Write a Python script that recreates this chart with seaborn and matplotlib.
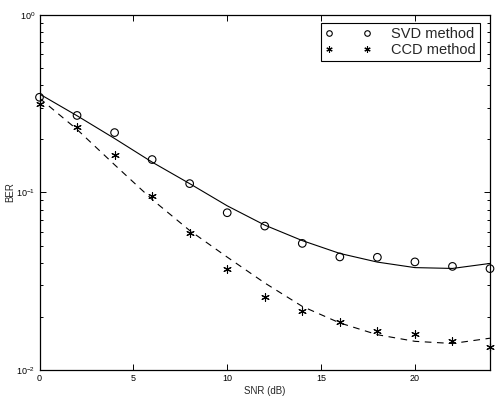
import matplotlib
matplotlib.use("Agg")
import matplotlib.pyplot as plt
from matplotlib.lines import Line2D
from matplotlib.ticker import LogLocator, LogFormatterMathtext, NullFormatter, FixedLocator
import numpy as np
import pandas as pd
import seaborn as sns

snr = [0, 2, 4, 6, 8, 10, 12, 14, 16, 18, 20, 22, 24]
svd_ber = [0.343, 0.271, 0.217, 0.153, 0.112, 0.0768, 0.0646, 0.0516, 0.0433, 0.0431, 0.0406, 0.0383, 0.0372]
ccd_ber = [0.314, 0.234, 0.163, 0.0953, 0.0592, 0.0368, 0.0256, 0.0216, 0.0187, 0.0165, 0.0160, 0.0145, 0.0135]
svd_fit = [0.358, 0.270, 0.201, 0.148, 0.112, 0.084, 0.0654, 0.0535, 0.0453, 0.0405, 0.0377, 0.0373, 0.0398]
ccd_fit = [0.339, 0.226, 0.143, 0.0912, 0.0610, 0.0432, 0.0309, 0.0228, 0.0184, 0.0158, 0.0145, 0.0141, 0.0151]
labels = ["SVD method", "CCD method"]

sns.set_style("ticks")
plt.rcParams["font.family"] = ["Liberation Sans", "DejaVu Sans"]
plt.rcParams["mathtext.fontset"] = "custom"
plt.rcParams["mathtext.rm"] = "Liberation Sans"
plt.rcParams["mathtext.it"] = "Liberation Sans"
plt.rcParams["mathtext.bf"] = "Liberation Sans"

df = pd.DataFrame({"snr": snr, "svd": svd_ber, "ccd": ccd_ber,
                   "svd_fit": svd_fit, "ccd_fit": ccd_fit})

fig = plt.figure(figsize=(5.0, 3.99), dpi=100)
ax = fig.add_axes([0.079, 0.0727, 0.901, 0.8904])

sns.lineplot(data=df, x="snr", y="svd_fit", color="black", lw=0.8, ax=ax)
sns.lineplot(data=df, x="snr", y="ccd_fit", color="black", lw=0.8,
             linestyle=(0, (6, 5)), ax=ax)
sns.scatterplot(data=df, x="snr", y="svd", marker="o", s=30,
                facecolor="none", edgecolor="black", linewidth=0.8, ax=ax, clip_on=False)
sns.scatterplot(data=df, x="snr", y="ccd", marker=(6, 2, 0), s=30,
                color="black", edgecolor="black", linewidth=0.8, ax=ax, clip_on=False)

ax.set_yscale("log")
ax.set_xlim(0, 24)
ax.set_ylim(1e-2, 1e0)
ax.xaxis.set_major_locator(FixedLocator([0, 5, 10, 15, 20]))
ax.yaxis.set_major_locator(LogLocator(base=10, numticks=10))
ax.yaxis.set_major_formatter(LogFormatterMathtext())
ax.yaxis.set_minor_locator(LogLocator(base=10, subs=np.arange(2, 10), numticks=10))
ax.yaxis.set_minor_formatter(NullFormatter())

ax.tick_params(which="both", direction="in", top=True, right=True,
               labelsize=6.5, colors="black", width=0.7)
ax.tick_params(which="major", length=4, pad=3)
ax.tick_params(which="minor", length=2.5)
for sp in ax.spines.values():
    sp.set_visible(True)
    sp.set_color("black")
    sp.set_linewidth(0.9)

ax.set_xlabel("SNR (dB)", fontsize=7, labelpad=2)
ax.set_ylabel("BER", fontsize=7, labelpad=1)

handles = [
    Line2D([], [], linestyle="none", marker="o", markersize=4, markerfacecolor="none",
           markeredgecolor="black", markeredgewidth=0.8),
    Line2D([], [], linestyle="none", marker=(6, 2, 0), markersize=4.5,
           color="black", markeredgewidth=0.8),
]
leg = ax.legend(handles, labels, loc="upper right", bbox_to_anchor=(0.978, 0.977),
                borderaxespad=0, numpoints=2, handlelength=3.2, handletextpad=1.32,
                fontsize=10.5, frameon=True, fancybox=False, labelspacing=0.1,
                borderpad=0.3, edgecolor="black", framealpha=1)
leg.get_frame().set_linewidth(0.8)

fig.savefig("out.png", dpi=100, facecolor="white")
